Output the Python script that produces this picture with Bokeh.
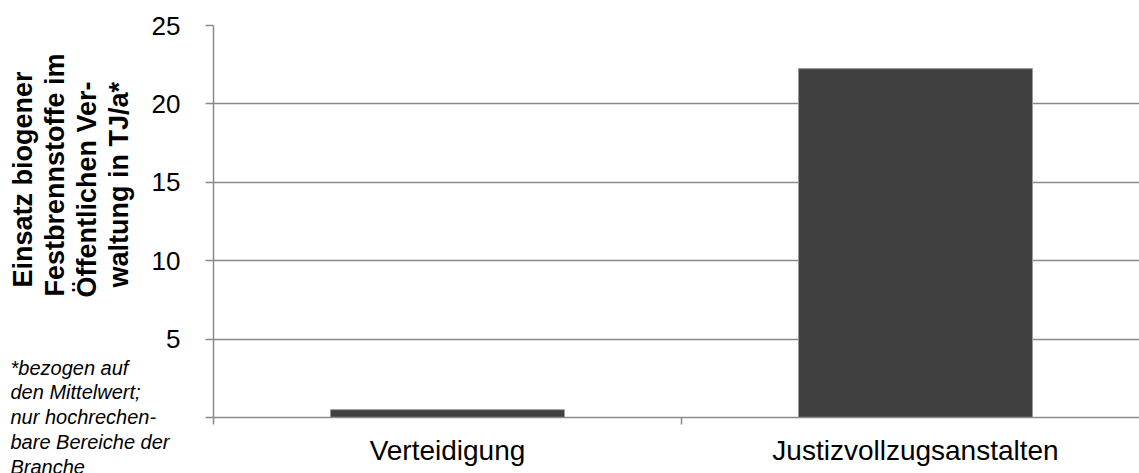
import math
from bokeh.plotting import figure
from bokeh.models import Range1d, FixedTicker, Title, ColumnDataSource
from bokeh.embed import file_html
from bokeh.resources import INLINE

categories = ["Verteidigung", "Justizvollzugsanstalten"]
values = [0.5, 22.25]
y_ticks = [0, 5, 10, 15, 20, 25]
title_lines = ["Einsatz biogener", "Festbrennstoffe im", "Öffentlichen Ver-", "waltung in TJ/a*"]
note_lines = ["*bezogen auf", "den Mittelwert;", "nur hochrechen-", "bare Bereiche der", "Branche"]

FONT = "Liberation Sans"
GRAY = "#8a8a8a"

W, H = 1139, 473
LEFT, TOP = 213, 25
FRAME_H = 392
PX_PER_CAT = 468.0
x_end = (W - LEFT) / PX_PER_CAT

p = figure(width=W, height=H, output_backend="svg", toolbar_location=None,
           x_range=Range1d(0, x_end), y_range=Range1d(0, 25),
           min_border_left=LEFT, min_border_top=TOP, min_border_right=0,
           min_border_bottom=H - TOP - FRAME_H)
p.outline_line_color = None
p.background_fill_color = "white"
p.border_fill_color = "white"

centers = [i + 0.5 for i in range(len(categories))]
src = ColumnDataSource(dict(x=centers, top=values))
p.vbar(x="x", top="top", width=0.5, bottom=0, source=src,
       fill_color="#404040", line_color="#9a9a9a", line_width=1)

# y axis
p.yaxis.ticker = FixedTicker(ticks=y_ticks)
p.yaxis.major_label_overrides = {0: ""}
p.yaxis.major_label_text_font = FONT
p.yaxis.major_label_text_font_size = "26px"
p.yaxis.major_label_text_color = "black"
p.yaxis.major_tick_out = 8
p.yaxis.major_tick_in = 0
p.yaxis.minor_tick_line_color = None
p.yaxis.major_tick_line_color = GRAY
p.yaxis.major_tick_line_width = 1.5
p.yaxis.axis_line_color = GRAY
p.yaxis.axis_line_width = 1.5
p.yaxis.major_label_standoff = 25

# x axis: labels at category centres, ticks at boundaries
p.xaxis.ticker = FixedTicker(ticks=centers, minor_ticks=[0, 1, 2])
p.xaxis.major_label_overrides = {c: n for c, n in zip(centers, categories)}
p.xaxis.major_label_text_font = FONT
p.xaxis.major_label_text_font_size = "28px"
p.xaxis.major_label_text_color = "black"
p.xaxis.major_tick_line_color = None
p.xaxis.major_tick_out = 0
p.xaxis.major_tick_in = 0
p.xaxis.minor_tick_out = 7
p.xaxis.minor_tick_in = 0
p.xaxis.minor_tick_line_color = GRAY
p.xaxis.minor_tick_line_width = 1.5
p.xaxis.axis_line_color = GRAY
p.xaxis.axis_line_width = 1.5
p.xaxis.major_label_standoff = 10

p.xgrid.grid_line_color = None
p.ygrid.ticker = FixedTicker(ticks=[5, 10, 15, 20, 25])
p.ygrid.grid_line_color = GRAY
p.ygrid.grid_line_width = 1.5

has_standoff = "standoff" in Title.properties()

# small gap between the y axis and the title block
p.add_layout(Title(text=" ", text_font_size="1px", standoff=12 if has_standoff else 0), "left")

# rotated multi-line axis title, as stacked left titles (nearest line first)
line_start_px = [287, 296, 297, 287]   # where each line begins (bottom end)
for t, st in reversed(list(zip(title_lines, line_start_px))):
    kw = dict(text=t, align="left", offset=(TOP + FRAME_H) - st, text_font=FONT,
              text_font_size="27px", text_font_style="bold", text_color="black")
    if has_standoff:
        kw["standoff"] = 0
    p.add_layout(Title(**kw), "left")

# footnote: a multi-line title below the x axis, lifted up by a negative standoff
XAXIS_H = 48
note_top_px = 353
note_kw = dict(text="\n".join(note_lines), align="left", vertical_align="top",
               offset=10 - LEFT, text_font=FONT, text_font_size="20px",
               text_font_style="italic", text_color="black", text_line_height=1.125)
try:
    note = Title(standoff=2 * (note_top_px - (TOP + FRAME_H + XAXIS_H)), **note_kw)
except Exception:
    note = Title(**note_kw)
p.add_layout(note, "below")

open("out.html", "w").write(file_html(p, INLINE))
